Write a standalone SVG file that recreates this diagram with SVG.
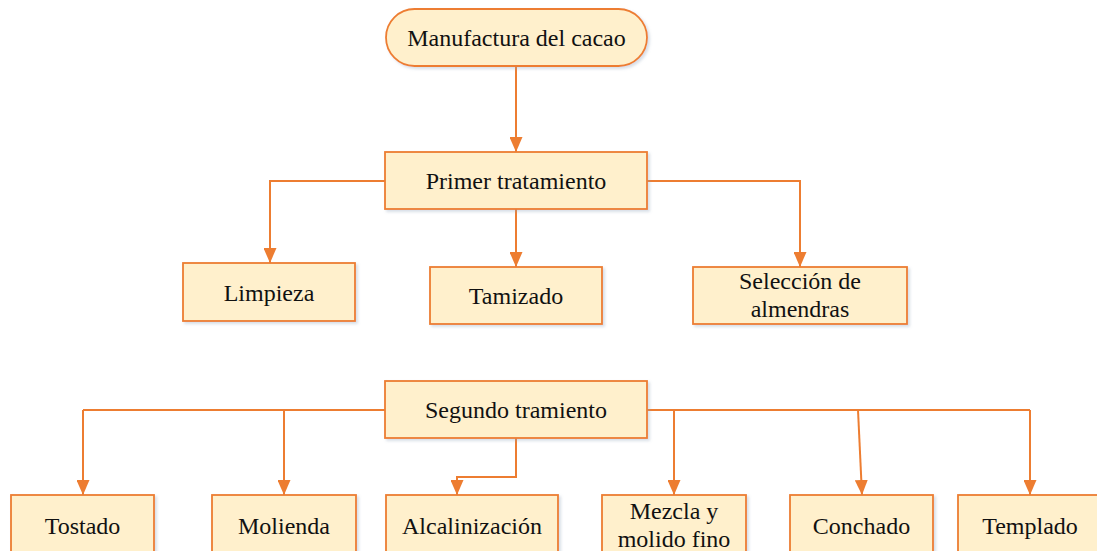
<svg xmlns="http://www.w3.org/2000/svg" width="1097" height="551" viewBox="0 0 1097 551">
<defs>
<style>
.n{fill:#FFF0CC;stroke:#ED7D31;stroke-width:1.8;filter:url(#sh)}
.t{font-family:'Liberation Serif','Times New Roman',serif;font-size:24px;fill:#111;text-anchor:middle}
.c{fill:none;stroke:#ED7D31;stroke-width:2;marker-end:url(#ah)}
.c2{fill:none;stroke:#ED7D31;stroke-width:2}
</style>
<filter id="sh" x="-10%" y="-10%" width="130%" height="140%">
<feDropShadow dx="2" dy="2" stdDeviation="1.5" flood-color="#8aa0b8" flood-opacity="0.35"/>
</filter>
<marker id="ah" markerUnits="userSpaceOnUse" markerWidth="15" markerHeight="13" refX="15" refY="6.5" orient="auto" viewBox="0 0 15 13">
<path d="M0,0 L15,6.5 L0,13 Z" fill="#ED7D31"/>
</marker>
</defs>
<rect width="1097" height="551" fill="#fff"/>
<g id="connectors">
<path class="c" d="M516,66 V152"/>
<path class="c" d="M385,181 H270 V263"/>
<path class="c" d="M516,209 V267"/>
<path class="c" d="M647,181 H800 V267"/>
<path class="c2" d="M385,410 H83"/>
<path class="c" d="M83,410 V495"/>
<path class="c" d="M284,410 V495"/>
<path class="c" d="M516,438 V477 H457 V495"/>
<path class="c2" d="M647,410 H1030"/>
<path class="c" d="M674,410 V495"/>
<path class="c" d="M858,410 L862,495"/>
<path class="c" d="M1030,410 V495"/>
</g>
<g id="n-manufactura"><rect class="n" x="386" y="9" width="261" height="57" rx="28.5"/><text class="t" x="516.5" y="46">Manufactura del cacao</text></g>
<g id="n-primer"><rect class="n" x="385" y="152" width="262" height="57"/><text class="t" x="516" y="189">Primer tratamiento</text></g>
<g id="n-limpieza"><rect class="n" x="183" y="263" width="172" height="58"/><text class="t" x="269" y="301">Limpieza</text></g>
<g id="n-tamizado"><rect class="n" x="430" y="267" width="172" height="57"/><text class="t" x="516" y="304">Tamizado</text></g>
<g id="n-seleccion"><rect class="n" x="693" y="267" width="214" height="57"/><text class="t" x="800" y="289">Selección de</text><text class="t" x="800" y="317">almendras</text></g>
<g id="n-segundo"><rect class="n" x="385" y="381" width="262" height="57"/><text class="t" x="516" y="418">Segundo tramiento</text></g>
<g id="n-tostado"><rect class="n" x="11" y="495" width="143" height="60"/><text class="t" x="82.5" y="534">Tostado</text></g>
<g id="n-molienda"><rect class="n" x="212" y="495" width="144" height="60"/><text class="t" x="284" y="534">Molienda</text></g>
<g id="n-alcalinizacion"><rect class="n" x="386" y="495" width="172" height="60"/><text class="t" x="472" y="534">Alcalinización</text></g>
<g id="n-mezcla"><rect class="n" x="602" y="495" width="144" height="60"/><text class="t" x="674" y="519">Mezcla y</text><text class="t" x="674" y="547">molido fino</text></g>
<g id="n-conchado"><rect class="n" x="790" y="495" width="143" height="60"/><text class="t" x="861.5" y="534">Conchado</text></g>
<g id="n-templado"><rect class="n" x="958" y="495" width="145" height="60"/><text class="t" x="1030" y="534">Templado</text></g>
</svg>
